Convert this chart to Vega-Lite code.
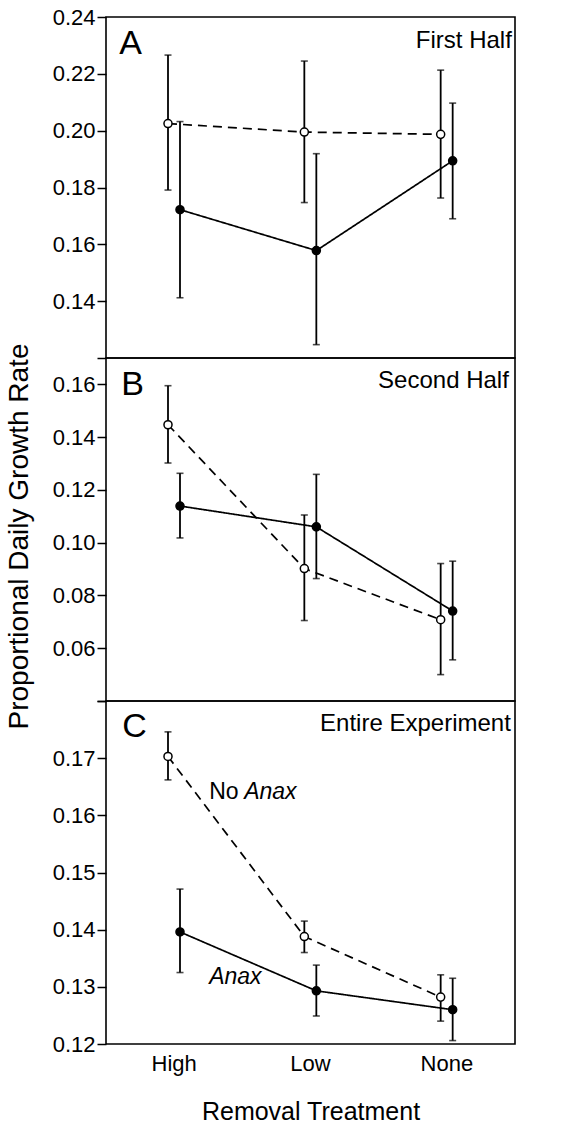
{
  "$schema": "https://vega.github.io/schema/vega-lite/v6.json",
  "padding": {"left": 4, "top": 5, "right": 6, "bottom": 0},
  "background": "white",
  "spacing": 0,
  "bounds": "flush",
  "config": {
    "font": "Liberation Sans",
    "view": {"stroke": "black", "strokeWidth": 1.6},
    "axis": {"labelFont": "Liberation Sans", "titleFont": "Liberation Sans", "labelColor": "black", "titleColor": "black", "tickColor": "black", "domain": false, "grid": false, "labelFontSize": 22, "titleFontWeight": "normal", "tickWidth": 1.5},
    "text": {"font": "Liberation Sans", "color": "black"}
  },
  "datasets": {
    "pA": [
      {"treatment": "High", "group": "No Anax", "mean": 0.2025, "lo": 0.1791, "hi": 0.2266},
      {"treatment": "Low", "group": "No Anax", "mean": 0.1995, "lo": 0.1747, "hi": 0.2245},
      {"treatment": "None", "group": "No Anax", "mean": 0.1987, "lo": 0.1763, "hi": 0.2213},
      {"treatment": "High", "group": "Anax", "mean": 0.1722, "lo": 0.1412, "hi": 0.2032},
      {"treatment": "Low", "group": "Anax", "mean": 0.1578, "lo": 0.1247, "hi": 0.1919},
      {"treatment": "None", "group": "Anax", "mean": 0.1894, "lo": 0.169, "hi": 0.2097}
    ],
    "pB": [
      {"treatment": "High", "group": "No Anax", "mean": 0.1447, "lo": 0.1302, "hi": 0.1595},
      {"treatment": "Low", "group": "No Anax", "mean": 0.0902, "lo": 0.0705, "hi": 0.1105},
      {"treatment": "None", "group": "No Anax", "mean": 0.0708, "lo": 0.05, "hi": 0.0921},
      {"treatment": "High", "group": "Anax", "mean": 0.1139, "lo": 0.1018, "hi": 0.1263},
      {"treatment": "Low", "group": "Anax", "mean": 0.106, "lo": 0.0864, "hi": 0.1259},
      {"treatment": "None", "group": "Anax", "mean": 0.0741, "lo": 0.0556, "hi": 0.093}
    ],
    "pC": [
      {"treatment": "High", "group": "No Anax", "mean": 0.1703, "lo": 0.1662, "hi": 0.1746},
      {"treatment": "Low", "group": "No Anax", "mean": 0.1388, "lo": 0.136, "hi": 0.1415},
      {"treatment": "None", "group": "No Anax", "mean": 0.1282, "lo": 0.124, "hi": 0.1321},
      {"treatment": "High", "group": "Anax", "mean": 0.1396, "lo": 0.1325, "hi": 0.1471},
      {"treatment": "Low", "group": "Anax", "mean": 0.1293, "lo": 0.1249, "hi": 0.1338},
      {"treatment": "None", "group": "Anax", "mean": 0.126, "lo": 0.1206, "hi": 0.1315}
    ]
  },
  "vconcat": [
    {
      "width": 409, "height": 341,
      "layer": [
        {
          "data": {"name": "pA"},
          "mark": {"type": "rule", "strokeWidth": 1.8, "color": "black"},
          "encoding": {
            "x": {"field": "treatment", "type": "nominal", "sort": ["High", "Low", "None"], "scale": {"type": "band", "paddingInner": 0, "paddingOuter": 0}, "axis": null},
            "xOffset": {"field": "group", "type": "nominal", "sort": ["No Anax", "Anax"], "scale": {"type": "point", "range": [62, 74], "padding": 0}},
            "y": {"field": "lo", "type": "quantitative", "scale": {"domain": [0.12, 0.24], "zero": false, "nice": false},
              "axis": {"title": null, "values": [0.12, 0.13, 0.14, 0.15, 0.16, 0.17, 0.18, 0.19, 0.2, 0.21, 0.22, 0.23, 0.24], "labelExpr": "round(datum.value*100)%2==0 && round(datum.value*100)>12 ? format(datum.value,'.2f') : ''", "tickSize": {"condition": {"test": "round(datum.value*100)%2==0", "value": 9}, "value": 4}, "labelPadding": 2}},
            "y2": {"field": "hi"}
          }
        },
        {
          "data": {"name": "pA"},
          "mark": {"type": "tick", "size": 7, "thickness": 1.6, "color": "black"},
          "encoding": {
            "x": {"field": "treatment", "type": "nominal", "sort": ["High", "Low", "None"]},
            "xOffset": {"field": "group", "type": "nominal", "sort": ["No Anax", "Anax"]},
            "y": {"field": "lo", "type": "quantitative"}
          }
        },
        {
          "data": {"name": "pA"},
          "mark": {"type": "tick", "size": 7, "thickness": 1.6, "color": "black"},
          "encoding": {
            "x": {"field": "treatment", "type": "nominal", "sort": ["High", "Low", "None"]},
            "xOffset": {"field": "group", "type": "nominal", "sort": ["No Anax", "Anax"]},
            "y": {"field": "hi", "type": "quantitative"}
          }
        },
        {
          "data": {"name": "pA"},
          "mark": {"type": "line", "color": "black", "strokeWidth": 1.7},
          "encoding": {
            "x": {"field": "treatment", "type": "nominal", "sort": ["High", "Low", "None"]},
            "xOffset": {"field": "group", "type": "nominal", "sort": ["No Anax", "Anax"]},
            "y": {"field": "mean", "type": "quantitative"},
            "detail": {"field": "group"},
            "strokeDash": {"field": "group", "type": "nominal", "scale": {"domain": ["No Anax", "Anax"], "range": [[9, 6], [1, 0]]}, "legend": null}
          }
        },
        {
          "data": {"name": "pA"},
          "mark": {"type": "point", "shape": "circle", "filled": true, "stroke": "black", "strokeWidth": 1.5, "size": 65, "opacity": 1},
          "encoding": {
            "x": {"field": "treatment", "type": "nominal", "sort": ["High", "Low", "None"]},
            "xOffset": {"field": "group", "type": "nominal", "sort": ["No Anax", "Anax"]},
            "y": {"field": "mean", "type": "quantitative"},
            "fill": {"field": "group", "type": "nominal", "scale": {"domain": ["No Anax", "Anax"], "range": ["white", "black"]}, "legend": null}
          }
        },
        {
          "data": {"values": [{"label": "A"}]},
          "mark": {"type": "text", "align": "left", "baseline": "alphabetic", "fontSize": 34, "dx": -55},
          "encoding": {"x": {"datum": "High"}, "y": {"datum": 0.2269, "type": "quantitative"}, "text": {"field": "label"}}
        },
        {
          "data": {"values": [{"label": "First Half"}]},
          "mark": {"type": "text", "align": "right", "baseline": "alphabetic", "fontSize": 24, "dx": 65},
          "encoding": {"x": {"datum": "None"}, "y": {"datum": 0.2291, "type": "quantitative"}, "text": {"field": "label"}}
        }
      ]
    },
    {
      "width": 409, "height": 343,
      "layer": [
        {
          "data": {"name": "pB"},
          "mark": {"type": "rule", "strokeWidth": 1.8, "color": "black"},
          "encoding": {
            "x": {"field": "treatment", "type": "nominal", "sort": ["High", "Low", "None"], "scale": {"type": "band", "paddingInner": 0, "paddingOuter": 0}, "axis": null},
            "xOffset": {"field": "group", "type": "nominal", "sort": ["No Anax", "Anax"], "scale": {"type": "point", "range": [62, 74], "padding": 0}},
            "y": {"field": "lo", "type": "quantitative", "scale": {"domain": [0.04, 0.17], "zero": false, "nice": false},
              "axis": {"title": "Proportional Daily Growth Rate", "titleFontSize": 28, "titlePadding": 19, "titleY": 178, "values": [0.04, 0.05, 0.06, 0.07, 0.08, 0.09, 0.1, 0.11, 0.12, 0.13, 0.14, 0.15, 0.16, 0.17], "labelExpr": "round(datum.value*100)%2==0 && round(datum.value*100)>4 ? format(datum.value,'.2f') : ''", "tickSize": {"condition": {"test": "round(datum.value*100)%2==0", "value": 9}, "value": 4}, "labelPadding": 2}},
            "y2": {"field": "hi"}
          }
        },
        {
          "data": {"name": "pB"},
          "mark": {"type": "tick", "size": 7, "thickness": 1.6, "color": "black"},
          "encoding": {
            "x": {"field": "treatment", "type": "nominal", "sort": ["High", "Low", "None"]},
            "xOffset": {"field": "group", "type": "nominal", "sort": ["No Anax", "Anax"]},
            "y": {"field": "lo", "type": "quantitative"}
          }
        },
        {
          "data": {"name": "pB"},
          "mark": {"type": "tick", "size": 7, "thickness": 1.6, "color": "black"},
          "encoding": {
            "x": {"field": "treatment", "type": "nominal", "sort": ["High", "Low", "None"]},
            "xOffset": {"field": "group", "type": "nominal", "sort": ["No Anax", "Anax"]},
            "y": {"field": "hi", "type": "quantitative"}
          }
        },
        {
          "data": {"name": "pB"},
          "mark": {"type": "line", "color": "black", "strokeWidth": 1.7},
          "encoding": {
            "x": {"field": "treatment", "type": "nominal", "sort": ["High", "Low", "None"]},
            "xOffset": {"field": "group", "type": "nominal", "sort": ["No Anax", "Anax"]},
            "y": {"field": "mean", "type": "quantitative"},
            "detail": {"field": "group"},
            "strokeDash": {"field": "group", "type": "nominal", "scale": {"domain": ["No Anax", "Anax"], "range": [[9, 6], [1, 0]]}, "legend": null}
          }
        },
        {
          "data": {"name": "pB"},
          "mark": {"type": "point", "shape": "circle", "filled": true, "stroke": "black", "strokeWidth": 1.5, "size": 65, "opacity": 1},
          "encoding": {
            "x": {"field": "treatment", "type": "nominal", "sort": ["High", "Low", "None"]},
            "xOffset": {"field": "group", "type": "nominal", "sort": ["No Anax", "Anax"]},
            "y": {"field": "mean", "type": "quantitative"},
            "fill": {"field": "group", "type": "nominal", "scale": {"domain": ["No Anax", "Anax"], "range": ["white", "black"]}, "legend": null}
          }
        },
        {
          "data": {"values": [{"label": "B"}]},
          "mark": {"type": "text", "align": "left", "baseline": "alphabetic", "fontSize": 34, "dx": -53},
          "encoding": {"x": {"datum": "High"}, "y": {"datum": 0.1561, "type": "quantitative"}, "text": {"field": "label"}}
        },
        {
          "data": {"values": [{"label": "Second Half"}]},
          "mark": {"type": "text", "align": "right", "baseline": "alphabetic", "fontSize": 24, "dx": 62},
          "encoding": {"x": {"datum": "None"}, "y": {"datum": 0.1586, "type": "quantitative"}, "text": {"field": "label"}}
        }
      ]
    },
    {
      "width": 409, "height": 343,
      "layer": [
        {
          "data": {"name": "pC"},
          "mark": {"type": "rule", "strokeWidth": 1.8, "color": "black"},
          "encoding": {
            "x": {"field": "treatment", "type": "nominal", "sort": ["High", "Low", "None"], "scale": {"type": "band", "paddingInner": 0, "paddingOuter": 0},
              "axis": {"title": "Removal Treatment", "titleFontSize": 25, "titlePadding": 25, "labelAngle": 0, "ticks": false, "tickSize": 0, "labelPadding": 9}},
            "xOffset": {"field": "group", "type": "nominal", "sort": ["No Anax", "Anax"], "scale": {"type": "point", "range": [62, 74], "padding": 0}},
            "y": {"field": "lo", "type": "quantitative", "scale": {"domain": [0.12, 0.18], "zero": false, "nice": false},
              "axis": {"title": null, "values": [0.12, 0.125, 0.13, 0.135, 0.14, 0.145, 0.15, 0.155, 0.16, 0.165, 0.17, 0.175, 0.18], "labelExpr": "round(datum.value*1000)%10==0 && round(datum.value*1000)<180 ? format(datum.value,'.2f') : ''", "tickSize": {"condition": {"test": "round(datum.value*1000)%10==0", "value": 9}, "value": 4}, "labelPadding": 2}},
            "y2": {"field": "hi"}
          }
        },
        {
          "data": {"name": "pC"},
          "mark": {"type": "tick", "size": 7, "thickness": 1.6, "color": "black"},
          "encoding": {
            "x": {"field": "treatment", "type": "nominal", "sort": ["High", "Low", "None"]},
            "xOffset": {"field": "group", "type": "nominal", "sort": ["No Anax", "Anax"]},
            "y": {"field": "lo", "type": "quantitative"}
          }
        },
        {
          "data": {"name": "pC"},
          "mark": {"type": "tick", "size": 7, "thickness": 1.6, "color": "black"},
          "encoding": {
            "x": {"field": "treatment", "type": "nominal", "sort": ["High", "Low", "None"]},
            "xOffset": {"field": "group", "type": "nominal", "sort": ["No Anax", "Anax"]},
            "y": {"field": "hi", "type": "quantitative"}
          }
        },
        {
          "data": {"name": "pC"},
          "mark": {"type": "line", "color": "black", "strokeWidth": 1.7},
          "encoding": {
            "x": {"field": "treatment", "type": "nominal", "sort": ["High", "Low", "None"]},
            "xOffset": {"field": "group", "type": "nominal", "sort": ["No Anax", "Anax"]},
            "y": {"field": "mean", "type": "quantitative"},
            "detail": {"field": "group"},
            "strokeDash": {"field": "group", "type": "nominal", "scale": {"domain": ["No Anax", "Anax"], "range": [[9, 6], [1, 0]]}, "legend": null}
          }
        },
        {
          "data": {"name": "pC"},
          "mark": {"type": "point", "shape": "circle", "filled": true, "stroke": "black", "strokeWidth": 1.5, "size": 65, "opacity": 1},
          "encoding": {
            "x": {"field": "treatment", "type": "nominal", "sort": ["High", "Low", "None"]},
            "xOffset": {"field": "group", "type": "nominal", "sort": ["No Anax", "Anax"]},
            "y": {"field": "mean", "type": "quantitative"},
            "fill": {"field": "group", "type": "nominal", "scale": {"domain": ["No Anax", "Anax"], "range": ["white", "black"]}, "legend": null}
          }
        },
        {
          "data": {"values": [{"label": "C"}]},
          "mark": {"type": "text", "align": "left", "baseline": "alphabetic", "fontSize": 34, "dx": -52},
          "encoding": {"x": {"datum": "High"}, "y": {"datum": 0.1737, "type": "quantitative"}, "text": {"field": "label"}}
        },
        {
          "data": {"values": [{"label": "Entire Experiment"}]},
          "mark": {"type": "text", "align": "right", "baseline": "alphabetic", "fontSize": 24, "dx": 64},
          "encoding": {"x": {"datum": "None"}, "y": {"datum": 0.1748, "type": "quantitative"}, "text": {"field": "label"}}
        },
        {
          "data": {"values": [{"label": "No"}]},
          "mark": {"type": "text", "align": "left", "baseline": "alphabetic", "fontSize": 23, "dx": 35},
          "encoding": {"x": {"datum": "High"}, "y": {"datum": 0.1629, "type": "quantitative"}, "text": {"field": "label"}}
        },
        {
          "data": {"values": [{"label": "Anax"}]},
          "mark": {"type": "text", "align": "left", "baseline": "alphabetic", "fontSize": 23, "fontStyle": "italic", "dx": 70},
          "encoding": {"x": {"datum": "High"}, "y": {"datum": 0.1629, "type": "quantitative"}, "text": {"field": "label"}}
        },
        {
          "data": {"values": [{"label": "Anax"}]},
          "mark": {"type": "text", "align": "left", "baseline": "alphabetic", "fontSize": 23, "fontStyle": "italic", "dx": 35},
          "encoding": {"x": {"datum": "High"}, "y": {"datum": 0.1305, "type": "quantitative"}, "text": {"field": "label"}}
        }
      ]
    }
  ]
}
